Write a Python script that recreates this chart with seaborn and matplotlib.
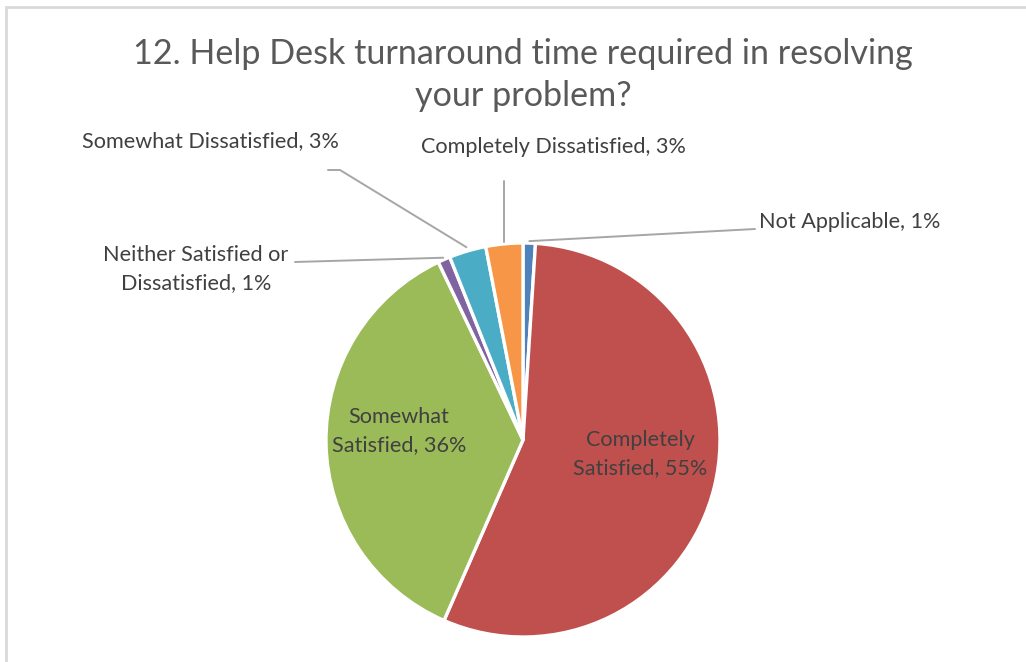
import numpy as np
import matplotlib
matplotlib.use("Agg")
import matplotlib.pyplot as plt
import seaborn as sns

# Survey responses, in drawing order (clockwise from 12 o'clock)
categories = ["Not Applicable", "Completely Satisfied", "Somewhat Satisfied",
              "Neither Satisfied or Dissatisfied", "Somewhat Dissatisfied",
              "Completely Dissatisfied"]
percentages = [1, 55, 36, 1, 3, 3]
slice_colors = ["#4F81BD", "#C0504D", "#9BBB59", "#8064A2", "#4BACC6", "#F79646"]
title = "12. Help Desk turnaround time required in resolving\nyour problem?"

sns.set_theme(style="white")
plt.rcParams["font.family"] = ["Lato", "DejaVu Sans"]

W, H = 1026, 662
fig = plt.figure(figsize=(W / 100, H / 100), dpi=100)
ax = fig.add_axes([0, 0, 1, 1])
ax.set_xlim(0, W)
ax.set_ylim(H, 0)
ax.set_aspect("equal")
ax.axis("off")

# outer chart frame (left and top edges visible)
ax.plot([5.5, 5.5, W + 5], [H + 5, 6.5, 6.5], color="#D9D9D9", lw=2,
        solid_joinstyle="miter")

cx, cy, R = 523, 440, 197
# y axis is inverted, so counterclock=True draws clockwise on screen
wedges, _ = ax.pie(percentages, colors=slice_colors, startangle=-90,
                   counterclock=True, center=(cx, cy), radius=R,
                   wedgeprops=dict(edgecolor="white", linewidth=2.4),
                   frame=True)
ax.set_xlim(0, W)
ax.set_ylim(H, 0)
ax.axis("off")

def anchor(idx, k=1.02):
    w = wedges[idx]
    mid = np.deg2rad((w.theta1 + w.theta2) / 2)
    return cx + R * k * np.cos(mid), cy + R * k * np.sin(mid)

def label(i):
    return f"{categories[i]}, {percentages[i]}%"

txt = "#404040"
fs = 15.6
ls = 1.45
line_c = "#A6A6A6"

# title
ax.text(cx, 75, title, ha="center", va="center", fontsize=24.6,
        color="#595959", linespacing=1.42)

# labels inside large slices
ax.text(399, 431, "Somewhat\nSatisfied, 36%", ha="center", va="center",
        fontsize=fs, color=txt, linespacing=ls)
ax.text(640, 454, "Completely\nSatisfied, 55%", ha="center", va="center",
        fontsize=fs, color=txt, linespacing=ls)

# outside labels with leader lines
ax.text(210, 141, label(4), ha="center", va="center", fontsize=fs, color=txt)
ax_, ay_ = anchor(4)
ax.plot([328, 340, ax_], [170, 170, ay_], color=line_c, lw=1.4)

ax.text(553, 147, label(5), ha="center", va="center", fontsize=fs, color=txt)
ax_, ay_ = anchor(5, 1.01)
ax.plot([ax_, ax_], [181, ay_], color=line_c, lw=1.4)

ax.text(759, 222, label(0), ha="left", va="center", fontsize=fs, color=txt)
ax_, ay_ = anchor(0, 1.01)
ax.plot([755, ax_], [229, ay_], color=line_c, lw=1.4)

ax.text(196, 269, "Neither Satisfied or\nDissatisfied, 1%", ha="center",
        va="center", fontsize=fs, color=txt, linespacing=ls)
ax_, ay_ = anchor(3, 1.01)
ax.plot([295, ax_], [262, ay_], color=line_c, lw=1.4)

fig.savefig("out.png", dpi=100, facecolor="white")
